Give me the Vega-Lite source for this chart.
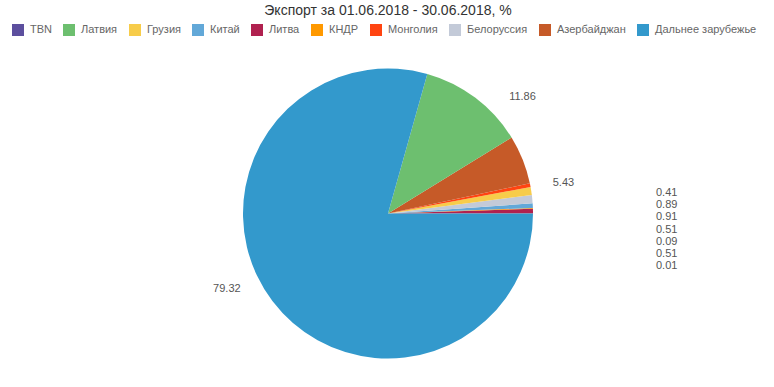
{
  "$schema": "https://vega.github.io/schema/vega-lite/v6.json",
  "autosize": {"type": "fit", "contains": "padding"},
  "width": 774,
  "height": 387,
  "padding": {"top": 4, "left": 12, "right": 10, "bottom": 4},
  "background": "white",
  "config": {
    "view": {"stroke": null},
    "font": "Liberation Sans"
  },
  "title": {
    "text": "Экспорт за 01.06.2018 - 30.06.2018, %",
    "fontSize": 14,
    "fontWeight": "normal",
    "color": "#333333",
    "anchor": "middle",
    "offset": 6
  },
  "data": {
    "values": [
      {"name": "TBN", "value": 0.01, "ord": 1},
      {"name": "Литва", "value": 0.51, "ord": 2},
      {"name": "КНДР", "value": 0.09, "ord": 3},
      {"name": "Китай", "value": 0.51, "ord": 4},
      {"name": "Белоруссия", "value": 0.91, "ord": 5},
      {"name": "Грузия", "value": 0.89, "ord": 6},
      {"name": "Монголия", "value": 0.41, "ord": 7},
      {"name": "Азербайджан", "value": 5.43, "ord": 8},
      {"name": "Латвия", "value": 11.86, "ord": 9},
      {"name": "Дальнее зарубежье", "value": 79.32, "ord": 10}
    ]
  },
  "layer": [
    {
      "mark": {"type": "arc", "outerRadius": 145},
      "encoding": {
        "theta": {"field": "value", "type": "quantitative", "stack": true, "scale": {"range": [1.5708, -4.7124]}},
        "order": {"field": "ord", "type": "quantitative"},
        "color": {
          "field": "name",
          "type": "nominal",
          "scale": {
            "domain": ["TBN", "Латвия", "Грузия", "Китай", "Литва", "КНДР", "Монголия", "Белоруссия", "Азербайджан", "Дальнее зарубежье"],
            "range": ["#5c4f9e", "#6dbf6f", "#f7cc4a", "#62a8d8", "#b0214f", "#ff9900", "#ff4411", "#c3cad8", "#c65a28", "#3399cc"]
          },
          "legend": {
            "title": null,
            "orient": "top",
            "direction": "horizontal",
            "symbolType": "square",
            "symbolSize": 144,
            "symbolStrokeWidth": 0,
            "labelFontSize": 11,
            "labelColor": "#666666",
            "labelFont": "Liberation Sans",
            "columnPadding": 11,
            "labelOffset": 6,
            "offset": 8,
            "padding": 0
          }
        }
      }
    },
    {
      "transform": [{"filter": "datum.value >= 1"}],
      "mark": {"type": "text", "radius": 178, "fontSize": 11, "color": "#555555"},
      "encoding": {
        "theta": {"field": "value", "type": "quantitative", "stack": true},
        "order": {"field": "ord", "type": "quantitative"},
        "text": {"field": "value", "type": "quantitative", "format": ".2f"}
      }
    },
    {
      "transform": [{"filter": "datum.value < 1"}],
      "mark": {"type": "text", "align": "left", "dx": 268, "fontSize": 11, "color": "#555555"},
      "encoding": {
        "y": {"field": "ord", "type": "ordinal", "sort": "descending", "scale": {"type": "point", "range": [149, 222], "padding": 0}, "axis": null},
        "text": {"field": "value", "type": "quantitative", "format": ".2f"}
      }
    }
  ]
}
